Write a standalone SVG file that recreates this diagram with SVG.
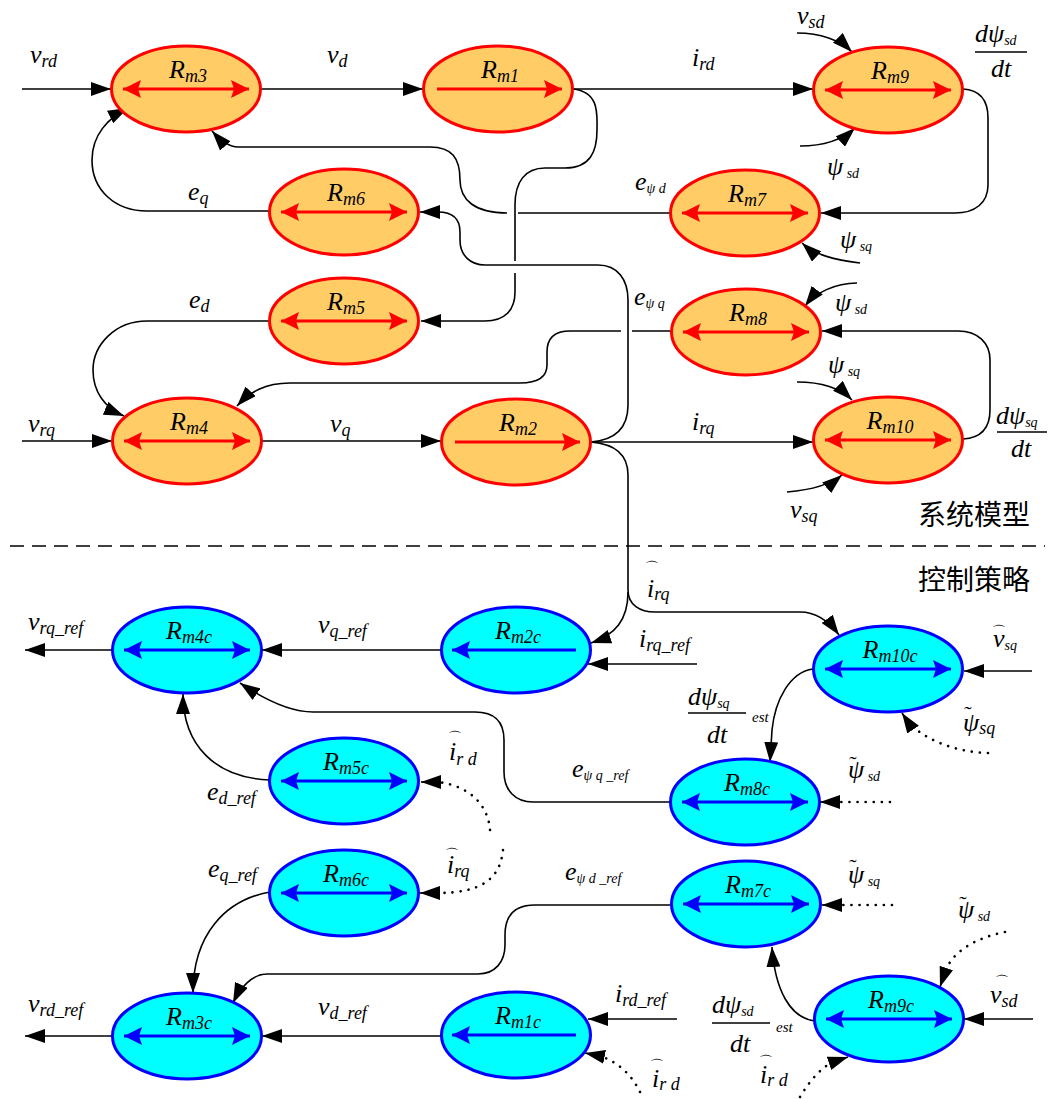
<svg xmlns="http://www.w3.org/2000/svg" width="1056" height="1099" viewBox="0 0 1056 1099">
<defs>
<marker id="ah" markerUnits="userSpaceOnUse" markerWidth="20" markerHeight="14" refX="20" refY="7" orient="auto" viewBox="0 0 20 14"><path d="M0,0 L20,7 L0,14 z" fill="#000"/></marker>
<marker id="ar" markerUnits="userSpaceOnUse" markerWidth="18" markerHeight="18" refX="18" refY="9" orient="auto-start-reverse" viewBox="0 0 18 18"><path d="M0,0 L18,9 L0,18 L3,9 z" fill="#FF0000"/></marker>
<marker id="ab" markerUnits="userSpaceOnUse" markerWidth="18" markerHeight="18" refX="18" refY="9" orient="auto-start-reverse" viewBox="0 0 18 18"><path d="M0,0 L18,9 L0,18 L3,9 z" fill="#0000FF"/></marker>
</defs>
<style>
.c{fill:none;stroke:#000;stroke-width:1.6}
.a{marker-end:url(#ah)}
.dot{fill:none;stroke:#000;stroke-width:2.6;stroke-linecap:round;stroke-dasharray:0.1 8}
.o ellipse{fill:#FFCC66;stroke:#FF0000;stroke-width:3}
.b ellipse{fill:#00FFFF;stroke:#0000FF;stroke-width:3}
.o line{stroke:#FF0000;stroke-width:3}
.b line{stroke:#0000FF;stroke-width:3}
.t{font-family:"Liberation Serif","Times New Roman",serif;font-style:italic;font-size:26px;fill:#000}
.s{font-size:18px}
.ss{font-size:14px}
.sm{font-size:15px}
.cjk{font-family:"Noto Sans CJK SC",sans-serif;font-size:28px;fill:#000}
.hat{font-family:"DejaVu Sans",sans-serif;font-size:14px;fill:#000}
.tl{font-family:"Liberation Serif",serif;font-size:22px;fill:#000}
.fb{stroke:#000;stroke-width:1.3}
</style>

<g id="connectors">
<path class="c" d="M10,546 L1045,546" stroke-dasharray="14 8" stroke-width="1.5"/>
<path class="c a" d="M22,89 L111,89"/>
<path class="c a" d="M260,89 L423,89"/>
<path class="c a" d="M573,89 L813,89"/>
<path class="c a" d="M573,89 C600,92 597,115 597,130 C597,152 590,168 565,168 L545,168 C525,168 515,182 515,205 L515,261 M515,273 L515,292 C515,310 505,321 485,321 L421,321"/>
<path class="c a" d="M670,213 L518,213 M507,213 C475,213 460,200 460,180 C460,158 452,147 430,147 L238,147 C228,147 220,140 212,131"/>
<path class="c a" d="M591,442 C615,440 628,428 628,405 L628,300 C628,280 618,265 598,265 L485,265 C470,265 460,255 460,240 L460,232 C460,218 452,212 438,212 L420,212"/>
<path class="c a" d="M672,331 L632,331 M621,331 L570,331 C552,331 547,340 547,352 L547,365 C547,377 538,383 520,383 L290,383 C265,383 250,392 237,406"/>
<path class="c a" d="M591,442 L813,442"/>
<path class="c a" d="M591,442 C615,444 628,455 628,475 L628,590 C628,605 640,612 655,612 L800,612 C815,612 828,620 839,635"/>
<path class="c a" d="M628,592 C628,620 615,635 591,643"/>
<path class="c a" d="M797,33 C820,33 840,40 852,52"/>
<path class="c a" d="M800,146 C825,146 842,140 855,128"/>
<path class="c a" d="M963,89 C980,90 988,100 988,118 L988,185 C988,203 975,213 955,213 L821,213"/>
<path class="c a" d="M860,263 C835,260 815,255 802,243"/>
<path class="c a" d="M857,283 C835,283 815,293 805,306"/>
<path class="c a" d="M963,439 C980,438 990,430 990,410 L990,360 C990,343 978,331 958,331 L822,331"/>
<path class="c a" d="M797,382 C820,382 840,388 852,400"/>
<path class="c a" d="M787,492 C810,490 830,485 842,475"/>
<path class="c a" d="M22,441 L112,441"/>
<path class="c a" d="M262,441 L441,441"/>
<path class="c a" d="M270,321 L147,321 C115,321 93,345 93,370 C93,392 105,408 124,416"/>
<path class="c a" d="M270,211 L147,211 C115,211 92,190 92,160 C92,135 108,118 128,108"/>
<path class="c a" d="M813,669 C790,672 775,700 772,730 L770,762"/>
<path class="dot" d="M988,753 C955,752 925,740 908,722"/>
<path class="c a" d="M908,722 L902,713" stroke="none"/>
<path class="c a" d="M1032,671 L964,671"/>
<path class="dot" d="M890,802 L836,802"/>
<path class="c a" d="M836,802 L820,802" stroke="none"/>
<path class="c a" d="M670,802 L533,802 C515,802 504,790 504,772 L504,740 C504,722 495,712 475,712 L313,712 C290,712 265,700 240,683"/>
<path class="c a" d="M441,650 L262,650"/>
<path class="c a" d="M112,650 L25,650"/>
<path class="c a" d="M697,664 L588,664"/>
<path class="c a" d="M270,780 C215,778 183,745 183,694"/>
<path class="dot" d="M490,830 C488,805 470,786 438,782"/>
<path class="c a" d="M438,782 L421,782" stroke="none"/>
<path class="dot" d="M503,850 C500,880 480,893 437,893"/>
<path class="c a" d="M437,893 L420,893" stroke="none"/>
<path class="c a" d="M270,892 C225,900 193,935 193,993"/>
<path class="c a" d="M670,905 L535,905 C515,905 505,915 505,935 L505,945 C505,962 495,974 478,974 L267,974 C252,974 240,988 233,1003"/>
<path class="dot" d="M892,905 L838,905"/>
<path class="c a" d="M838,905 L822,905" stroke="none"/>
<path class="c a" d="M815,1021 C790,1018 775,990 772,947"/>
<path class="dot" d="M1005,932 C975,938 952,952 945,972"/>
<path class="c a" d="M945,972 L940,987" stroke="none"/>
<path class="c a" d="M1033,1019 L964,1019"/>
<path class="dot" d="M800,1097 C810,1080 822,1067 833,1062"/>
<path class="c a" d="M833,1062 L848,1057" stroke="none"/>
<path class="c a" d="M441,1036 L262,1036"/>
<path class="c a" d="M112,1036 L25,1036"/>
<path class="c a" d="M677,1019 L588,1019"/>
<path class="dot" d="M640,1092 C632,1075 618,1062 600,1056"/>
<path class="c a" d="M600,1056 L585,1053" stroke="none"/>
</g>

<g id="Rm3" class="o"><ellipse cx="186" cy="89" rx="74.5" ry="43"/><line x1="123" y1="89" x2="249" y2="89" marker-start="url(#ar)" marker-end="url(#ar)"/><text class="t" x="188" y="78" text-anchor="middle">R<tspan class="s" dy="4">m3</tspan></text></g>
<g id="Rm1" class="o"><ellipse cx="498" cy="89" rx="74.5" ry="43"/><line x1="437" y1="89" x2="562" y2="89" marker-end="url(#ar)"/><text class="t" x="500" y="78" text-anchor="middle">R<tspan class="s" dy="4">m1</tspan></text></g>
<g id="Rm9" class="o"><ellipse cx="888" cy="90" rx="74.5" ry="43"/><line x1="825" y1="90" x2="951" y2="90" marker-start="url(#ar)" marker-end="url(#ar)"/><text class="t" x="890" y="79" text-anchor="middle">R<tspan class="s" dy="4">m9</tspan></text></g>
<g id="Rm6" class="o"><ellipse cx="344" cy="212" rx="74.5" ry="43"/><line x1="281" y1="212" x2="407" y2="212" marker-start="url(#ar)" marker-end="url(#ar)"/><text class="t" x="346" y="201" text-anchor="middle">R<tspan class="s" dy="4">m6</tspan></text></g>
<g id="Rm7" class="o"><ellipse cx="745" cy="213" rx="74.5" ry="43"/><line x1="682" y1="213" x2="808" y2="213" marker-start="url(#ar)" marker-end="url(#ar)"/><text class="t" x="747" y="202" text-anchor="middle">R<tspan class="s" dy="4">m7</tspan></text></g>
<g id="Rm5" class="o"><ellipse cx="344" cy="321" rx="74.5" ry="43"/><line x1="281" y1="321" x2="407" y2="321" marker-start="url(#ar)" marker-end="url(#ar)"/><text class="t" x="346" y="310" text-anchor="middle">R<tspan class="s" dy="4">m5</tspan></text></g>
<g id="Rm8" class="o"><ellipse cx="746" cy="332" rx="74.5" ry="43"/><line x1="683" y1="332" x2="809" y2="332" marker-start="url(#ar)" marker-end="url(#ar)"/><text class="t" x="748" y="321" text-anchor="middle">R<tspan class="s" dy="4">m8</tspan></text></g>
<g id="Rm4" class="o"><ellipse cx="187" cy="441" rx="74.5" ry="43"/><line x1="124" y1="441" x2="250" y2="441" marker-start="url(#ar)" marker-end="url(#ar)"/><text class="t" x="189" y="430" text-anchor="middle">R<tspan class="s" dy="4">m4</tspan></text></g>
<g id="Rm2" class="o"><ellipse cx="516" cy="442" rx="74.5" ry="43"/><line x1="455" y1="442" x2="580" y2="442" marker-end="url(#ar)"/><text class="t" x="518" y="431" text-anchor="middle">R<tspan class="s" dy="4">m2</tspan></text></g>
<g id="Rm10" class="o"><ellipse cx="888" cy="440" rx="74.5" ry="43"/><line x1="825" y1="440" x2="951" y2="440" marker-start="url(#ar)" marker-end="url(#ar)"/><text class="t" x="890" y="429" text-anchor="middle">R<tspan class="s" dy="4">m10</tspan></text></g>

<g id="Rm4c" class="b"><ellipse cx="187" cy="650" rx="74.5" ry="43"/><line x1="124" y1="650" x2="250" y2="650" marker-start="url(#ab)" marker-end="url(#ab)"/><text class="t" x="189" y="639" text-anchor="middle">R<tspan class="s" dy="4">m4c</tspan></text></g>
<g id="Rm2c" class="b"><ellipse cx="516" cy="650" rx="74.5" ry="43"/><line x1="576" y1="650" x2="452" y2="650" marker-end="url(#ab)"/><text class="t" x="518" y="639" text-anchor="middle">R<tspan class="s" dy="4">m2c</tspan></text></g>
<g id="Rm10c" class="b"><ellipse cx="888" cy="669" rx="74.5" ry="43"/><line x1="825" y1="669" x2="951" y2="669" marker-start="url(#ab)" marker-end="url(#ab)"/><text class="t" x="890" y="658" text-anchor="middle">R<tspan class="s" dy="4">m10c</tspan></text></g>
<g id="Rm5c" class="b"><ellipse cx="344" cy="781" rx="74.5" ry="43"/><line x1="281" y1="781" x2="407" y2="781" marker-start="url(#ab)" marker-end="url(#ab)"/><text class="t" x="346" y="770" text-anchor="middle">R<tspan class="s" dy="4">m5c</tspan></text></g>
<g id="Rm8c" class="b"><ellipse cx="745" cy="802" rx="74.5" ry="43"/><line x1="682" y1="802" x2="808" y2="802" marker-start="url(#ab)" marker-end="url(#ab)"/><text class="t" x="747" y="791" text-anchor="middle">R<tspan class="s" dy="4">m8c</tspan></text></g>
<g id="Rm6c" class="b"><ellipse cx="344" cy="893" rx="74.5" ry="43"/><line x1="281" y1="893" x2="407" y2="893" marker-start="url(#ab)" marker-end="url(#ab)"/><text class="t" x="346" y="882" text-anchor="middle">R<tspan class="s" dy="4">m6c</tspan></text></g>
<g id="Rm7c" class="b"><ellipse cx="746" cy="904" rx="74.5" ry="43"/><line x1="683" y1="904" x2="809" y2="904" marker-start="url(#ab)" marker-end="url(#ab)"/><text class="t" x="748" y="893" text-anchor="middle">R<tspan class="s" dy="4">m7c</tspan></text></g>
<g id="Rm3c" class="b"><ellipse cx="187" cy="1036" rx="74.5" ry="43"/><line x1="124" y1="1036" x2="250" y2="1036" marker-start="url(#ab)" marker-end="url(#ab)"/><text class="t" x="189" y="1025" text-anchor="middle">R<tspan class="s" dy="4">m3c</tspan></text></g>
<g id="Rm1c" class="b"><ellipse cx="516" cy="1035" rx="74.5" ry="43"/><line x1="576" y1="1035" x2="452" y2="1035" marker-end="url(#ab)"/><text class="t" x="518" y="1024" text-anchor="middle">R<tspan class="s" dy="4">m1c</tspan></text></g>
<g id="Rm9c" class="b"><ellipse cx="889" cy="1019" rx="74.5" ry="43"/><line x1="826" y1="1019" x2="952" y2="1019" marker-start="url(#ab)" marker-end="url(#ab)"/><text class="t" x="891" y="1008" text-anchor="middle">R<tspan class="s" dy="4">m9c</tspan></text></g>

<g id="labels">
<text class="t" x="30" y="63">v<tspan class="s" dy="4">rd</tspan></text>
<text class="t" x="327" y="63">v<tspan class="s" dy="4">d</tspan></text>
<text class="t" x="692" y="66">i<tspan class="s" dy="4">rd</tspan></text>
<text class="t" x="797" y="24">v<tspan class="s" dy="4">sd</tspan></text>
<text class="t" x="975" y="42">dψ<tspan class="ss" dy="3">sd</tspan></text>
<line class="fb" x1="975" y1="52" x2="1027" y2="52"/>
<text class="t" x="1001" y="77" text-anchor="middle">dt</text>
<text class="t" x="827" y="175">ψ<tspan class="ss" dy="3"> sd</tspan></text>
<text class="t" x="188" y="200">e<tspan class="s" dy="4">q</tspan></text>
<text class="t" x="635" y="190">e<tspan class="ss" dy="3">ψ d</tspan></text>
<text class="t" x="840" y="248">ψ<tspan class="ss" dy="3"> sq</tspan></text>
<text class="t" x="189" y="308">e<tspan class="s" dy="4">d</tspan></text>
<text class="t" x="634" y="305">e<tspan class="ss" dy="3">ψ q</tspan></text>
<text class="t" x="835" y="311">ψ<tspan class="ss" dy="3"> sd</tspan></text>
<text class="t" x="828" y="373">ψ<tspan class="ss" dy="3"> sq</tspan></text>
<text class="t" x="28" y="432">v<tspan class="s" dy="4">rq</tspan></text>
<text class="t" x="330" y="432">v<tspan class="s" dy="4">q</tspan></text>
<text class="t" x="692" y="430">i<tspan class="s" dy="4">rq</tspan></text>
<text class="t" x="996" y="424">dψ<tspan class="ss" dy="3">sq</tspan></text>
<line class="fb" x1="997" y1="432" x2="1047" y2="432"/>
<text class="t" x="1021" y="457" text-anchor="middle">dt</text>
<text class="t" x="790" y="518">v<tspan class="s" dy="4">sq</tspan></text>
<text class="cjk" x="918" y="525">系统模型</text>
<text class="cjk" x="918" y="590">控制策略</text>

<text class="t" x="647" y="597">i<tspan class="s" dy="3">rq</tspan></text>
<text class="hat" x="652" y="572" text-anchor="middle">⌒</text>
<text class="t" x="28" y="630">v<tspan class="s" dy="4">rq_ref</tspan></text>
<text class="t" x="318" y="633">v<tspan class="s" dy="4">q_ref</tspan></text>
<text class="t" x="639" y="647">i<tspan class="s" dy="4">rq_ref</tspan></text>
<text class="t" x="993" y="647">v<tspan class="ss" dy="3">sq</tspan></text>
<text class="hat" x="999" y="636" text-anchor="middle">⌒</text>
<text class="t" x="688" y="705">dψ<tspan class="ss" dy="3">sq</tspan></text>
<line class="fb" x1="688" y1="713" x2="746" y2="713"/>
<text class="t" x="717" y="743" text-anchor="middle">dt</text>
<text class="t sm" x="752" y="722">est</text>
<text class="t" x="963" y="731">ψ<tspan class="s" dy="3">sq</tspan></text>
<text class="tl" x="968" y="721" text-anchor="middle">˜</text>
<text class="t" x="449" y="760">i<tspan class="s" dy="5">r d</tspan></text>
<text class="hat" x="455" y="742" text-anchor="middle">⌒</text>
<text class="t" x="207" y="800">e<tspan class="s" dy="4">d_ref</tspan></text>
<text class="t" x="572" y="777">e<tspan class="ss" dy="3">ψ q _ref</tspan></text>
<text class="t" x="848" y="778">ψ<tspan class="ss" dy="3"> sd</tspan></text>
<text class="tl" x="853" y="771" text-anchor="middle">˜</text>
<text class="t" x="208" y="877">e<tspan class="s" dy="4">q_ref</tspan></text>
<text class="t" x="447" y="873">i<tspan class="s" dy="4">rq</tspan></text>
<text class="hat" x="452" y="859" text-anchor="middle">⌒</text>
<text class="t" x="565" y="880">e<tspan class="ss" dy="3">ψ d _ref</tspan></text>
<text class="t" x="848" y="883">ψ<tspan class="ss" dy="3"> sq</tspan></text>
<text class="tl" x="853" y="874" text-anchor="middle">˜</text>
<text class="t" x="958" y="918">ψ<tspan class="ss" dy="3"> sd</tspan></text>
<text class="tl" x="963" y="911" text-anchor="middle">˜</text>
<text class="t" x="28" y="1012">v<tspan class="s" dy="4">rd_ref</tspan></text>
<text class="t" x="318" y="1015">v<tspan class="s" dy="4">d_ref</tspan></text>
<text class="t" x="615" y="1002">i<tspan class="s" dy="4">rd_ref</tspan></text>
<text class="t" x="990" y="1003">v<tspan class="s" dy="4">sd</tspan></text>
<text class="hat" x="1002" y="986" text-anchor="middle">⌒</text>
<text class="t" x="712" y="1013">dψ<tspan class="ss" dy="3">sd</tspan></text>
<line class="fb" x1="712" y1="1023" x2="770" y2="1023"/>
<text class="t" x="740" y="1052" text-anchor="middle">dt</text>
<text class="t sm" x="776" y="1032">est</text>
<text class="t" x="652" y="1087">i<tspan class="s" dy="3">r d</tspan></text>
<text class="hat" x="657" y="1070" text-anchor="middle">⌒</text>
<text class="t" x="760" y="1083">i<tspan class="s" dy="3">r d</tspan></text>
<text class="hat" x="766" y="1066" text-anchor="middle">⌒</text>
</g>
</svg>
